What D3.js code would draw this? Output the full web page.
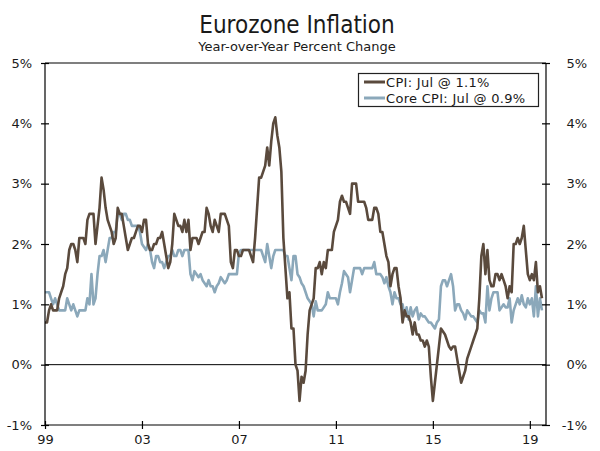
<!DOCTYPE html>
<html><head><meta charset="utf-8">
<script src="https://cdn.jsdelivr.net/npm/d3@7"></script>
<style>
html,body{margin:0;padding:0;background:#fff;}
svg{display:block;}
text{font-family:"DejaVu Sans",Verdana,sans-serif;fill:#1a1a1a;}
</style></head>
<body>
<svg id="chart" width="600" height="451"></svg>
<script>
// Monthly data, Jan 1999 .. Jul 2019 (year-over-year % change)
const startYear = 1999;
const cpi = [
  0.7,0.7,0.9,1.0,0.9,0.9,0.9,1.1,1.2,1.3,1.5,1.6,
  1.9,2.0,2.0,1.9,1.7,2.1,2.1,2.1,2.0,2.4,2.5,2.5,
  2.5,2.0,2.3,2.6,3.1,2.9,2.6,2.4,2.3,2.2,2.0,2.1,
  2.6,2.5,2.5,2.3,2.1,1.9,2.0,2.1,2.1,2.2,2.3,2.3,
  2.2,2.4,2.4,2.0,1.9,1.9,2.0,2.0,2.1,2.1,2.2,2.0,
  1.8,1.6,1.7,2.0,2.5,2.4,2.3,2.3,2.2,2.4,2.2,2.4,
  1.9,2.1,2.1,2.1,2.0,2.1,2.2,2.2,2.6,2.5,2.3,2.2,
  2.4,2.3,2.2,2.5,2.5,2.5,2.4,2.3,1.7,1.6,1.9,1.9,
  1.8,1.8,1.9,1.9,1.9,1.9,1.8,1.7,2.1,2.6,3.1,3.1,
  3.2,3.3,3.6,3.3,3.7,4.0,4.1,3.8,3.6,3.2,2.1,1.6,
  1.1,1.2,0.6,0.6,0.0,-0.1,-0.6,-0.2,-0.3,-0.1,0.5,0.9,
  1.0,1.1,1.6,1.6,1.7,1.5,1.7,1.6,1.9,1.9,1.9,2.2,
  2.3,2.4,2.7,2.8,2.7,2.7,2.6,2.5,3.0,3.0,3.0,2.7,
  2.7,2.7,2.7,2.6,2.4,2.4,2.4,2.6,2.6,2.5,2.2,2.2,
  2.0,1.8,1.7,1.3,1.5,1.6,1.6,1.3,1.1,0.7,0.9,0.8,
  0.8,0.7,0.5,0.7,0.5,0.5,0.4,0.4,0.3,0.4,0.3,-0.2,
  -0.6,-0.3,0.0,0.3,0.6,0.55,0.5,0.4,0.3,0.25,0.3,0.3,
  0.1,-0.1,-0.3,-0.2,-0.1,0.1,0.2,0.3,0.4,0.5,0.6,1.1,
  1.8,2.0,1.5,1.9,1.4,1.3,1.3,1.5,1.5,1.4,1.5,1.4,
  1.3,1.1,1.3,1.2,2.0,2.0,2.1,2.0,2.1,2.3,1.9,1.5,
  1.4,1.5,1.4,1.7,1.2,1.3,1.1
];
const core = [
  1.2,1.2,1.2,1.1,1.0,1.1,1.0,0.9,0.9,0.9,0.9,1.1,
  1.0,0.9,1.0,0.9,0.8,0.9,0.9,0.9,0.9,1.1,1.0,1.5,
  1.0,1.1,1.5,1.8,1.8,1.9,1.7,1.9,2.1,2.1,2.2,2.2,
  2.5,2.5,2.4,2.5,2.5,2.4,2.4,2.3,2.3,2.3,2.3,2.2,
  2.0,1.95,1.9,2.0,1.9,1.7,1.6,1.8,1.8,1.7,1.7,1.6,
  1.7,1.8,1.8,1.9,1.8,1.8,1.9,1.9,1.8,1.9,1.9,1.9,
  1.5,1.4,1.55,1.5,1.45,1.5,1.4,1.35,1.3,1.4,1.3,1.3,
  1.2,1.3,1.35,1.45,1.4,1.35,1.4,1.5,1.5,1.5,1.5,1.5,
  1.85,1.9,1.9,1.9,1.9,1.9,1.9,1.9,1.9,1.9,1.9,1.9,
  1.8,1.7,2.0,1.8,1.6,1.8,1.9,1.9,1.9,1.9,1.9,1.8,
  1.8,1.6,1.4,1.8,1.8,1.5,1.45,1.35,1.3,1.2,1.1,1.05,
  1.0,0.8,1.05,0.9,0.9,0.9,0.95,1.0,1.2,1.1,1.1,1.1,
  1.1,1.0,1.2,1.35,1.55,1.5,1.45,1.2,1.4,1.6,1.6,1.6,
  1.6,1.5,1.6,1.6,1.6,1.6,1.6,1.7,1.5,1.5,1.5,1.45,
  1.35,1.45,1.3,1.2,1.0,1.2,1.1,1.1,1.0,1.0,0.8,0.95,
  0.75,0.95,0.8,0.9,0.95,0.75,0.85,0.8,0.8,0.75,0.7,0.7,
  0.65,0.6,0.7,0.75,1.3,1.4,1.4,1.3,1.4,1.5,1.3,0.9,
  1.0,1.0,0.9,0.85,0.75,0.9,0.85,0.8,0.8,0.75,0.7,0.9,
  0.85,0.85,0.7,1.3,0.9,1.1,1.2,1.2,1.2,0.9,0.95,1.0,
  0.95,0.95,1.1,0.7,0.9,1.0,1.1,1.0,1.15,1.0,0.95,1.1,
  1.0,1.1,0.8,1.3,0.8,1.1,0.9
];
const xTickMonths = [0,48,96,144,192,240];
const xTickLabels = ["99","03","07","11","15","19"];
const yTicks = [-1,0,1,2,3,4,5];
const seriesNames = ["CPI: Jul @ 1.1%","Core CPI: Jul @ 0.9%"];
const seriesColors = ["#5a4a3d","#8ba8ba"];

const svg = d3.select("#chart");
const L = 45, R = 546, T = 63, B = 425;
const x = d3.scaleLinear().domain([0, 248]).range([L, R]);
const y = d3.scaleLinear().domain([-1, 5]).range([B, T]);

// title
svg.append("text").attr("x", 297).attr("y", 33).attr("text-anchor","middle")
  .style("font-family","'DejaVu Sans Condensed','DejaVu Sans',sans-serif")
  .style("font-size","24px").text("Eurozone Inflation");
svg.append("text").attr("x", 297).attr("y", 51).attr("text-anchor","middle")
  .style("font-size","13px").text("Year-over-Year Percent Change");

// zero line
svg.append("line").attr("x1", L).attr("x2", R).attr("y1", y(0)).attr("y2", y(0))
  .attr("stroke","#000").attr("stroke-width",1);

// lines
const line = d3.line().x((d,i)=>x(i)).y(d=>y(d));
[core, cpi].forEach((s, k) => {
  const idx = k === 0 ? 1 : 0;
  svg.append("path").datum(s).attr("d", line).attr("fill","none")
    .attr("stroke", seriesColors[idx]).attr("stroke-width", 2.6)
    .attr("stroke-linejoin","round");
});

// frame
svg.append("line").attr("x1",L).attr("x2",R).attr("y1",T).attr("y2",T).attr("stroke","#000").attr("stroke-width",1.2);

// axes
const axL = d3.axisLeft(y).tickValues(yTicks).tickSize(4).tickFormat(d=>d+"%");
const axR = d3.axisRight(y).tickValues(yTicks).tickSize(4).tickFormat(d=>d+"%");
const axB = d3.axisBottom(x).tickValues(xTickMonths).tickSize(4).tickFormat((d,i)=>xTickLabels[i]);

function styleAxis(g){
  g.select(".domain").attr("stroke","#000").attr("stroke-width",1.2);
  g.selectAll(".tick line").attr("stroke","#000").attr("stroke-width",1.2);
  g.selectAll(".tick text").style("font-family","'DejaVu Sans',sans-serif").style("font-size","13px").attr("fill","#1a1a1a");
}
const gL = svg.append("g").attr("transform",`translate(${L},0)`).call(axL).call(styleAxis);
gL.selectAll(".tick line").attr("x1",4).attr("x2",-4);
gL.selectAll(".tick text").attr("x",-13);
gL.select(".domain").attr("d",`M0,${T}V${B}`);
const gR = svg.append("g").attr("transform",`translate(${R},0)`).call(axR).call(styleAxis);
gR.selectAll(".tick line").attr("x1",-4).attr("x2",4);
gR.selectAll(".tick text").attr("x",41).attr("text-anchor","end");
gR.select(".domain").attr("d",`M0,${T}V${B}`);
const gB = svg.append("g").attr("transform",`translate(0,${B})`).call(axB).call(styleAxis);
gB.selectAll(".tick line").attr("y1",-4).attr("y2",4);
gB.selectAll(".tick text").attr("y",10);
gB.select(".domain").attr("d",`M${L},0H${R}`);

// legend
const lg = svg.append("g");
lg.append("rect").attr("x",358.5).attr("y",73.5).attr("width",180).attr("height",33)
  .attr("fill","#fff").attr("stroke","#222").attr("stroke-width",1.2);
seriesNames.forEach((n,i)=>{
  const yy = 82 + i*16;
  lg.append("line").attr("x1",364).attr("x2",385).attr("y1",yy).attr("y2",yy)
    .attr("stroke",seriesColors[i]).attr("stroke-width",3);
  lg.append("text").attr("x",386).attr("y",yy+4.5).style("font-size","13px")
    .style("letter-spacing","0.3px").text(n);
});
</script>
</body></html>
